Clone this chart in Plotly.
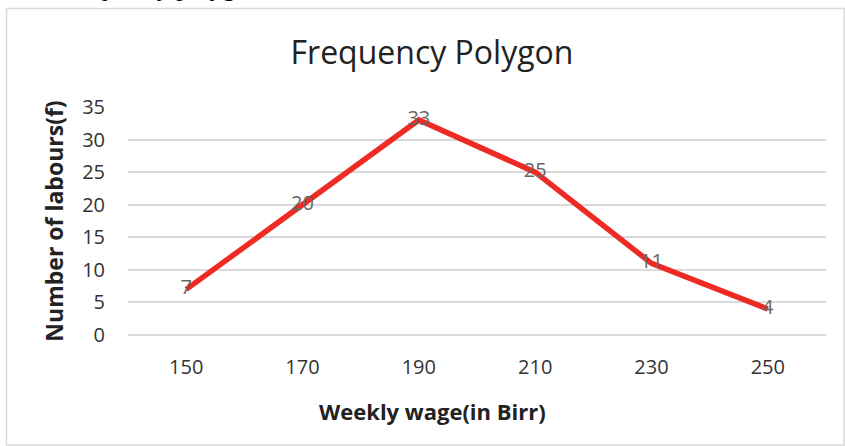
import plotly.graph_objects as go

# Weekly wage classes (mid-values) and number of labourers in each
wages = ["150", "170", "190", "210", "230", "250"]
labours = [7, 20, 33, 25, 11, 4]
y_ticks = [0, 5, 10, 15, 20, 25, 30, 35]

W, H = 845, 446
L, R, T, B = 128, 19, 107, 111
pw, ph = W - L - R, H - T - B


def px(x):
    return (x - L) / pw


def py(y):
    return (H - B - y) / ph


font = "'Open Sans', sans-serif"

fig = go.Figure()
fig.add_trace(go.Scatter(
    x=wages, y=labours,
    mode="lines+text",
    line=dict(color="#EE2A24", width=5.5),
    text=[str(v) for v in labours],
    textposition="middle center",
    textfont=dict(family=font, size=20, color="#666666"),
    cliponaxis=False,
    hoverinfo="skip",
))

fig.update_layout(
    width=W, height=H,
    margin=dict(l=L, r=R, t=T, b=B),
    paper_bgcolor="white", plot_bgcolor="white",
    showlegend=False,
    font=dict(family=font, color="#333333"),
    title=dict(text="Frequency Polygon", x=432 / W, xanchor="center",
               y=1 - 53 / H, yanchor="middle",
               font=dict(family=font, size=32, color="#222222")),
    xaxis=dict(
        type="category", range=[-0.5, 5.5],
        showgrid=False, zeroline=False, showline=False,
        tickfont=dict(family=font, size=20, color="#333333"),
        ticks="", ticklabelstandoff=18,
    ),
    yaxis=dict(
        range=[0, 35], tickvals=y_ticks,
        showgrid=True, gridcolor="#D9D9D9", gridwidth=1.5,
        zeroline=True, zerolinecolor="#D9D9D9", zerolinewidth=1.5,
        showline=False, ticks="", ticklabelstandoff=22,
        tickfont=dict(family=font, size=20, color="#333333"),
        title=dict(text="<b>Number of labours(f)</b>", standoff=12,
                   font=dict(family=font, size=23, color="#222222")),
    ),
    shapes=[dict(
        type="rect", xref="paper", yref="paper",
        x0=px(6.5), x1=px(844), y0=py(445), y1=py(8.5),
        line=dict(color="#D9D9D9", width=1.5), fillcolor="rgba(0,0,0,0)",
        layer="below",
    )],
    annotations=[
        # x-axis title, placed left of the plot centre
        dict(text="<b>Weekly wage(in Birr)</b>", xref="paper", yref="paper",
             x=px(432), y=py(411), xanchor="center", yanchor="middle",
             showarrow=False,
             font=dict(family=font, size=22, color="#222222")),
        # caption line of the surrounding page, cut by the top edge
        dict(text="Frequency polygon", xref="paper", yref="paper",
             x=px(160), y=py(4), xanchor="center", yanchor="bottom",
             showarrow=False,
             font=dict(family="Liberation Serif, serif", size=26, color="#000000")),
    ],
)

fig.write_html("out.html")
